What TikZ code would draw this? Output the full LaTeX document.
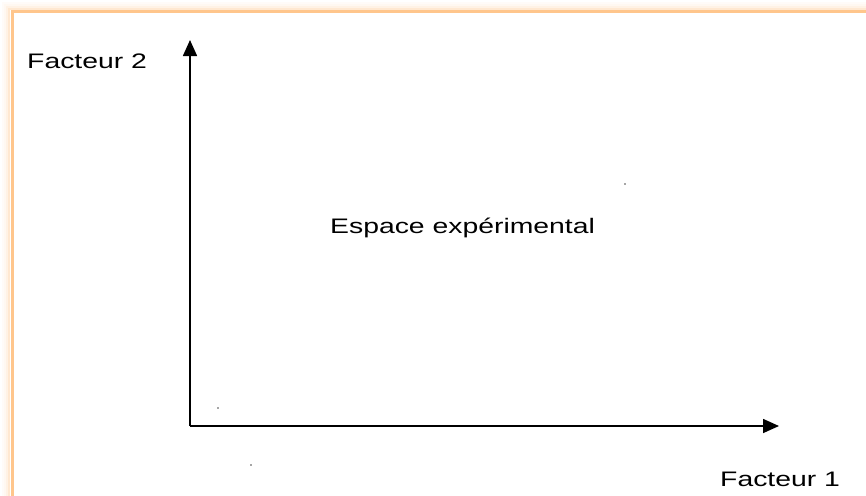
\documentclass[tikz,border=0pt]{standalone}
\usepackage{fontspec}
\newfontfamily\labfont[FakeStretch=1.35]{Liberation Sans}
\usetikzlibrary{arrows.meta}
\definecolor{glow}{HTML}{FFC68C}
\tikzset{
  axis/.style={line width=1.6pt, -{Triangle[length=16pt,width=14pt]}},
  lab/.style={font=\labfont\fontsize{21}{24}\selectfont, inner sep=0pt, anchor=base west},
  speck/.style={fill=black!70, draw=none}
}
\begin{document}
\begin{tikzpicture}[x=1pt,y=-1pt]
\useasboundingbox (0,0) rectangle (866,495);
\fill[white] (0,0) rectangle (866,495);
% glowing frame
\foreach \d/\o in {9/0.06,7/0.12,5/0.22,3/0.4} {
  \draw[glow, line width=2pt, opacity=\o] (12-\d,520) -- (12-\d,12-\d) -- (900,12-\d);
}
\draw[glow, line width=3pt] (12,520) -- (12,12) -- (900,12);
% axes
\coordinate (O) at (190,426);
\coordinate (Y) at (190,40);
\coordinate (X) at (779,426);
\draw[axis] (O) -- (Y);
\draw[axis] (O) -- (X);
% labels
\node[lab] (f2) at (27,68) {Facteur 2};
\node[lab] (f1) at (720,486) {Facteur 1};
\node[lab] (esp) at (330,233) {Espace expérimental};
% specks
\fill[speck] (218,408) circle (0.9);
\fill[speck] (251,465) circle (0.9);
\fill[speck] (625,184) circle (0.9);
\end{tikzpicture}
\end{document}
